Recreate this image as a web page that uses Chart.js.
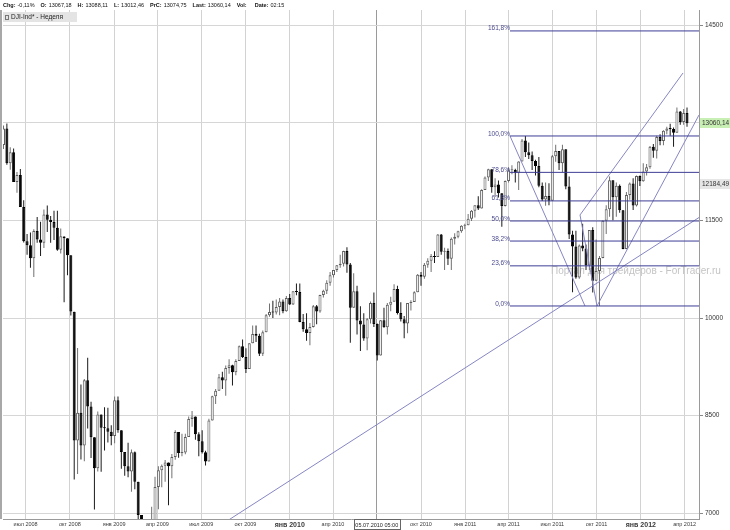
<!DOCTYPE html>
<html>
<head>
<meta charset="utf-8">
<script src="https://cdn.jsdelivr.net/npm/chart.js@4.4.1/dist/chart.umd.min.js"></script>
<style>
  html, body { margin: 0; padding: 0; background: #fff; }
  canvas { display: block; }
</style>
</head>
<body>
<canvas id="chart" width="730" height="530"></canvas>
<script>
// weekly candles (index 0 = week of 16.05.2008)
const opens = [12661,12917,12381,12548,12094,12198,11706,11181,11120,10920,11340,11206,11159,11591,11510,11478,11388,11048,11254,11225,
  10966,10097,8116,8541,8039,9041,8637,8165,7688,8517,8311,8305,8252,8184,8734,8273,7937,7720,7639,7936,
  7480,6968,6647,6186,6818,6876,7402,7657,7727,7778,7720,7863,8248,7923,7932,8168,8448,8485,8210,8103,
  7935,7794,8423,8796,8880,9089,9037,9232,9273,9164,9338,9565,9401,9214,9613,9752,9726,9451,9780,10042,
  10093,10084,10168,10255,10104,10306,10209,10410,10401,9938,9827,9769,9861,10181,10100,10355,10418,10542,10657,10737,
  10811,10835,11030,10823,10158,10412,9960,9901,9683,9979,10232,9907,9424,9966,9859,10204,10249,10447,10077,9981,
  9914,10229,10245,10398,10666,10633,10821,10880,10954,10939,11285,11018,11030,10912,11219,11248,11334,11421,11425,11528,
  11648,11736,11686,11970,12162,12287,12011,12052,11919,11723,12106,12272,12275,12235,12408,12732,12548,12504,12415,12340,
  12033,11822,11877,11803,12489,12568,12381,12594,12024,11286,11100,10622,11116,11068,10807,11353,10573,10723,10924,11497,
  11671,12119,11856,12036,11657,11060,11894,12069,11732,12184,12104,12254,12319,12635,12572,12785,12721,12879,12914,12908,
  12849,13178,13017,13155];
const highs = [12961,12992,12626,12607,12246,12294,11812,11291,11315,11365,11553,11481,11669,11732,11568,11650,11650,11376,11259,11225,
  10966,10097,9538,8978,9062,9390,8711,8165,8563,8517,8628,8618,8350,8791,8791,8273,7937,8081,7977,7946,
  7480,6968,6647,6819,7095,7559,7718,7745,7814,7778,7909,8274,8248,8221,8221,8486,8568,8485,8242,8274,
  7957,8450,8803,8909,9137,9174,9269,9365,9280,9365,9576,9669,9534,9613,9883,9883,9756,9809,10063,10222,
  10264,10285,10306,10285,10338,10370,10412,10529,10529,10063,10074,9925,10200,10200,10359,10434,10582,10709,10740,10815,
  10973,11036,11088,10846,10687,10497,10179,10074,9999,10253,10391,9915,9968,10158,10232,10328,10518,10497,10243,10031,
  10232,10274,10411,10677,10709,10847,10920,10984,11026,11291,11291,11079,11068,11238,11302,11344,11428,11450,11598,11661,
  11735,11873,11979,12175,12296,12287,12148,12116,11919,12116,12317,12349,12296,12413,12752,12800,12698,12561,12434,12476,
  12085,12085,12074,12508,12667,12568,12667,12594,12175,11344,11344,11132,11450,11132,11354,11396,11206,10952,11502,11735,
  12175,12119,12085,12053,11661,11937,12085,12148,12191,12191,12381,12370,12646,12677,12804,12825,12889,12942,12990,12931,
  13238,13184,13215,13238];
const lows = [12598,12357,12281,12094,11926,11706,11161,10973,10774,10631,11159,10955,11077,11322,11159,11199,11033,10993,10242,10658,
  10038,7514,7602,7824,7797,8301,7848,7056,7637,7636,7963,8083,8044,8075,8236,7681,7575,7549,7328,7367,
  6845,6537,5991,6020,6686,6876,7057,7396,7480,7120,7533,7819,7851,7872,7904,8168,8327,8126,7872,7914,
  7731,7794,8423,8677,8880,8909,8803,9142,8962,9121,9338,9385,9153,9214,9613,9629,9417,9417,9780,10021,
  10000,10053,10042,10074,10095,10201,10201,10349,9936,9788,9650,9581,9855,9903,10080,10317,10370,10497,10624,10709,
  10773,10794,10698,9618,10158,9745,9491,9650,9502,9915,9862,9347,9424,9851,9745,10105,10249,10052,9946,9688,
  9767,10116,10245,10398,10497,10603,10773,10709,10846,10939,10973,10738,10815,10738,11132,11227,11312,11365,11428,11493,
  11545,11661,11686,11970,12106,11926,11862,11852,11402,11714,12085,12212,12085,11968,12408,12476,12445,12275,12191,12011,
  11799,11725,11735,11803,12402,12275,12243,11979,11217,10396,10603,10603,11026,10738,10738,10391,10570,10184,10920,11291,
  11556,11503,11556,11619,11058,11058,11820,11661,11714,12032,12096,12191,12296,12466,12455,12656,12656,12826,12805,12635,
  12849,12974,12974,12942];
const closes = [12917,12381,12548,12094,12198,11706,11181,11120,10920,11340,11206,11159,11591,11510,11478,11388,11048,11259,11225,10966,
  10100,8116,8541,8039,9041,8637,8165,7688,8517,8311,8305,8252,8184,8734,8273,7937,7720,7639,7936,7480,
  6968,6647,6186,6818,6876,7402,7657,7727,7778,7720,7863,8248,7923,7932,8168,8448,8485,8210,8103,7935,
  7794,8423,8796,8880,9089,9037,9232,9273,9164,9338,9565,9401,9214,9613,9752,9726,9451,9780,10042,10093,
  10084,10168,10255,10104,10306,10209,10410,10401,9938,9827,9769,9861,10181,10100,10355,10418,10542,10657,10737,10811,
  10835,11030,10823,10158,10412,9960,9901,9683,9979,10232,9907,9424,9966,9859,10204,10249,10447,10077,9981,9914,
  10229,10245,10398,10666,10633,10821,10880,10954,10939,11285,11018,11030,10912,11219,11248,11334,11421,11425,11528,11648,
  11736,11686,11970,12162,12287,12011,12052,11919,11723,12106,12272,12275,12235,12408,12732,12548,12504,12415,12340,12033,
  11822,11877,11803,12489,12568,12381,12594,12024,11286,11100,10622,11116,11068,10807,11353,10573,10723,10924,11497,11671,
  12119,11856,12036,11657,11060,11894,12069,11732,12184,12104,12254,12319,12635,12572,12785,12721,12879,12914,12908,12849,
  13178,13017,13155,12995];

// quarter ticks (position in weeks from first candle)
const xTickPos = [6.57,19.71,32.86,45.71,58.71,71.86,85,97.86,110.86,124,137.14,150,163,176.14,189.29,202.29];
const xTickLabels = ["июл 2008","окт 2008","янв 2009","апр 2009","июл 2009","окт 2009","янв 2010","апр 2010",
  "июл 2010","окт 2010","янв 2011","апр 2011","июл 2011","окт 2011","янв 2012","апр 2012"];
const boldTicks = ["янв 2010","янв 2012"];
const yTicks = [7000,8500,10000,11500,13000,14500];

// fibonacci tool and trend lines
const fibHigh = {x: 150.43, y: 12800};
const fibLow = {x: 172.7, y: 10185};
const fibRatios = [1.618,1,0.786,0.618,0.5,0.382,0.236,0];
const fibLabels = ["161,8%","100,0%","78,6%","61,8%","50,0%","38,2%","23,6%","0,0%"];
const trendLines = [
  [{x: 42, y: 6065}, {x: 206.56, y: 11546}],
  [{x: 150.43, y: 12800}, {x: 172.7, y: 10185}],
  [{x: 176.27, y: 10185}, {x: 206.56, y: 13123}],
  [{x: 171.22, y: 11585}, {x: 201.81, y: 13769}],
  [{x: 171.22, y: 11585}, {x: 176.27, y: 10185}]
];

const priceTags = [
  {value: 12995, text: "13060,14", bg: "#c8efb4"},
  {value: 12068, text: "12184,49", bg: "#e6e6e6"}
];
const cursorPos = 110.86;
const cursorText = "05.07.2010 05:00";
const header = [["Chg:", "-0,11%"], ["O:", "13067,18"], ["H:", "13088,11"], ["L:", "13012,46"],
  ["PrC:", "13074,75"], ["Last:", "13060,14"], ["Vol:", ""], ["Date:", "02:15"]];
const watermark = "Портал для трейдеров - ForTrader.ru";

const X_MIN = -0.15, X_MAX = 206.56;
const FONT = '"Liberation Sans", Arial, sans-serif';
const up = i => closes[i] >= opens[i];
const idx = opens.map((_, i) => i);

const datasets = [];
datasets.push({
  type: 'bar',
  data: idx.map(i => ({x: i, y: [lows[i], highs[i]]})),
  barThickness: 1,
  grouped: false,
  inflateAmount: 0,
  borderWidth: 0,
  backgroundColor: c => up(c.dataIndex) ? '#707070' : '#1a1a1a',
  order: 3
});
datasets.push({
  type: 'bar',
  data: idx.map(i => ({x: i, y: [opens[i], closes[i]]})),
  barThickness: 3,
  grouped: false,
  inflateAmount: 0,
  minBarLength: 1,
  borderWidth: 1,
  borderSkipped: false,
  backgroundColor: c => up(c.dataIndex) ? '#ffffff' : '#000000',
  borderColor: c => up(c.dataIndex) ? '#5e5e5e' : '#000000',
  order: 2
});
fibRatios.forEach(r => {
  const lvl = fibLow.y + r * (fibHigh.y - fibLow.y);
  datasets.push({
    type: 'line',
    data: [{x: fibHigh.x, y: lvl}, {x: X_MAX, y: lvl}],
    borderColor: '#3d3d96',
    borderWidth: 1,
    pointRadius: 0,
    order: 0
  });
});
trendLines.forEach(pts => {
  datasets.push({
    type: 'line',
    data: pts,
    borderColor: '#8686c4',
    borderWidth: 1,
    pointRadius: 0,
    order: 1
  });
});

const extras = {
  id: 'extras',
  beforeDatasetsDraw(chart) {
    const ctx = chart.ctx;
    ctx.save();
    ctx.font = '10px ' + FONT;
    ctx.fillStyle = '#c4c4c4';
    ctx.textBaseline = 'middle';
    ctx.fillText(watermark, 551, 271);
    ctx.restore();
  },
  afterDatasetsDraw(chart) {
    const {ctx, scales: {x, y}} = chart;
    ctx.save();
    ctx.font = '6.5px ' + FONT;
    ctx.fillStyle = '#4a4a8e';
    ctx.textAlign = 'right';
    ctx.textBaseline = 'bottom';
    const px = x.getPixelForValue(fibHigh.x);
    fibRatios.forEach((r, i) => {
      const lvl = fibLow.y + r * (fibHigh.y - fibLow.y);
      ctx.fillText(fibLabels[i], px, y.getPixelForValue(lvl) + 1);
    });
    ctx.restore();
  },
  afterDraw(chart) {
    const {ctx, chartArea: a, scales: {x, y}} = chart;
    ctx.save();
    // left frame
    ctx.fillStyle = '#a8a8a8';
    ctx.fillRect(0, a.top, 2, a.bottom - a.top);
    // header line
    ctx.textBaseline = 'middle';
    let hx = 3;
    header.forEach(([k, v]) => {
      ctx.font = 'bold 5.5px ' + FONT;
      ctx.fillStyle = '#111';
      ctx.fillText(k, hx, 5);
      hx += ctx.measureText(k).width + 2;
      ctx.font = '5.5px ' + FONT;
      ctx.fillText(v, hx, 5);
      hx += ctx.measureText(v).width + 6;
    });
    // instrument box
    ctx.fillStyle = '#e4e4e4';
    ctx.fillRect(3, 12, 74, 10);
    ctx.strokeStyle = '#777';
    ctx.strokeRect(5.5, 15.5, 3, 4);
    ctx.fillStyle = '#222';
    ctx.font = '6.5px ' + FONT;
    ctx.fillText("DJI-Ind* - Неделя", 11, 17);
    // price tags
    ctx.font = '6.5px ' + FONT;
    priceTags.forEach(t => {
      const py = Math.round(y.getPixelForValue(t.value));
      ctx.fillStyle = t.bg;
      ctx.fillRect(a.right + 1, py - 5, 30, 10);
      ctx.fillStyle = '#333';
      ctx.fillText(t.text, a.right + 3, py);
    });
    // cursor date box
    const cx = x.getPixelForValue(cursorPos);
    ctx.fillStyle = '#fff';
    ctx.fillRect(cx - 23, a.bottom + 0.5, 46, 10);
    ctx.strokeStyle = '#666';
    ctx.lineWidth = 1;
    ctx.strokeRect(Math.round(cx - 23) + 0.5, a.bottom + 0.5, 46, 10);
    ctx.fillStyle = '#222';
    ctx.font = '5.5px ' + FONT;
    ctx.textAlign = 'center';
    ctx.fillText(cursorText, cx, a.bottom + 6);
    ctx.restore();
  }
};

new Chart(document.getElementById('chart'), {
  data: {datasets},
  options: {
    responsive: false,
    animation: false,
    devicePixelRatio: 1,
    layout: {padding: {left: 3, top: 10, right: 0, bottom: 0}},
    plugins: {legend: {display: false}, tooltip: {enabled: false}},
    scales: {
      x: {
        type: 'linear',
        min: X_MIN,
        max: X_MAX,
        offset: false,
        afterBuildTicks: s => { s.ticks = xTickPos.map(v => ({value: v})); },
        afterFit: s => { s.height = 11; },
        grid: {
          offset: false,
          drawTicks: false,
          color: c => c.index === 8 ? '#9a9a9a' : '#d2d2d2'
        },
        border: {color: '#9a9a9a'},
        ticks: {
          autoSkip: false,
          maxRotation: 0,
          padding: 2,
          color: '#3a3a3a',
          callback: (v, i) => xTickLabels[i],
          font: c => ({family: FONT, size: boldTicks.includes(xTickLabels[c.index]) ? 7 : 5.5,
            weight: boldTicks.includes(xTickLabels[c.index]) ? 'bold' : 'normal'})
        }
      },
      y: {
        type: 'linear',
        position: 'right',
        min: 6908,
        max: 14738,
        afterBuildTicks: s => { s.ticks = yTicks.map(v => ({value: v})); },
        afterFit: s => { s.width = 31; },
        grid: {color: '#d6d6d6', tickLength: 4, tickColor: '#888'},
        border: {color: '#9a9a9a'},
        ticks: {
          padding: 2,
          color: '#333',
          font: {family: FONT, size: 6.5},
          callback: v => String(v)
        }
      }
    }
  },
  plugins: [extras]
});
</script>
</body>
</html>
